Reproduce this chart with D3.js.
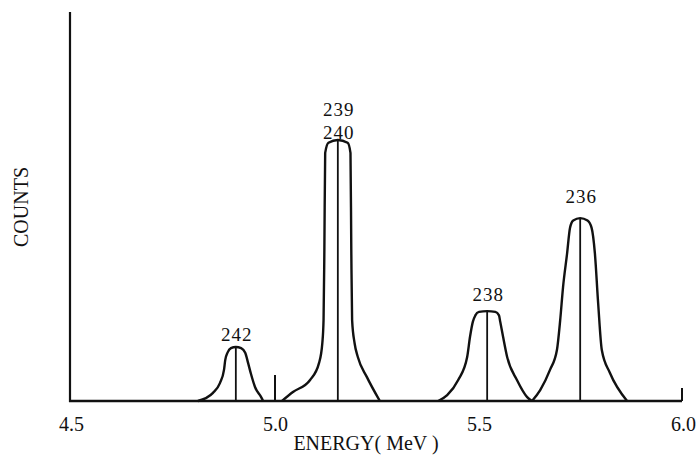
<!DOCTYPE html>
<html lang="en">
<head>
<meta charset="utf-8">
<title>Alpha spectrum</title>
<script src="https://d3js.org/d3.v7.min.js"></script>
<style>
  body { margin: 0; background: #fff; }
  text { font-family: "Liberation Serif", "DejaVu Serif", serif; fill: #111; }
</style>
</head>
<body>
<div id="vis"></div>
<script>
// tick labels on the energy axis (MeV)
const energyTicks = [4.5, 5.0, 5.5, 6.0];

// peak outlines: energy (MeV) and counts (arbitrary units, 0-100)
const peak242E = [4.811, 4.848, 4.865, 4.875, 4.878, 4.884, 4.892, 4.904, 4.917, 4.927, 4.934, 4.941, 4.951, 4.966, 4.971];
const peak242C = [0, 2.1, 4.6, 8.0, 10.5, 12.5, 13.6, 13.9, 13.6, 12.4, 9.8, 7.0, 3.6, 1.0, 0];

const peak239E = [5.017, 5.044, 5.086, 5.108, 5.116, 5.119, 5.121, 5.123, 5.131, 5.154, 5.178, 5.185, 5.187, 5.189, 5.195, 5.203, 5.225, 5.257];
const peak239C = [0, 2.3, 5.4, 9.8, 14.9, 20.8, 38.8, 63.8, 66.4, 67.1, 66.4, 63.8, 38.8, 20.8, 14.9, 11.3, 6.2, 0];

const peak238E = [5.400, 5.422, 5.449, 5.471, 5.478, 5.485, 5.491, 5.500, 5.520, 5.540, 5.549, 5.552, 5.559, 5.569, 5.593, 5.618, 5.630];
const peak238C = [0, 1.5, 5.4, 11.3, 16.5, 20.4, 22.0, 22.9, 23.1, 22.9, 22.0, 20.4, 16.5, 11.3, 5.4, 1.0, 0];

const peak236E = [5.630, 5.650, 5.674, 5.691, 5.699, 5.706, 5.716, 5.723, 5.731, 5.748, 5.766, 5.776, 5.784, 5.792, 5.801, 5.821, 5.863];
const peak236C = [0, 2.8, 8.0, 13.1, 20.8, 29.3, 38.0, 44.5, 46.4, 47.0, 46.4, 44.5, 38.0, 25.2, 13.1, 7.2, 0];

// centre energy and height of each peak, and its isotope label
const peakNames = [["242"], ["239", "240"], ["238"], ["236"]];
const peakCentreE = [4.904, 5.154, 5.520, 5.748];
const peakCentreC = [13.9, 67.1, 23.1, 47.0];

// short marker at 5.0 MeV
const markerE = 5.0;
const markerC = 6.7;

const width = 698;
const height = 465;

const x = d3.scaleLinear().domain([4.5, 6.0]).range([71, 683]);
const y = d3.scaleLinear().domain([0, 100]).range([401, 12]);

const svg = d3.select('#vis')
  .append('svg')
  .attr('width', width)
  .attr('height', height);

// vertical counts axis, no ticks
svg.append('line')
  .attr('x1', x(4.5) - 1).attr('x2', x(4.5) - 1)
  .attr('y1', y(100)).attr('y2', y(0) + 1)
  .attr('stroke', '#111').attr('stroke-width', 2.2);

const xAxis = d3.axisBottom(x)
  .tickValues(energyTicks)
  .tickFormat(d3.format('.1f'))
  .tickSize(0)
  .tickPadding(16);

const gx = svg.append('g')
  .attr('transform', `translate(0,${y(0)})`)
  .attr('font-family', '"Liberation Serif", serif')
  .call(xAxis);
gx.select('.domain').remove();
gx.selectAll('text')
  .style('font-family', '"Liberation Serif", serif')
  .style('font-size', '20px')
  .attr('fill', '#111');

svg.append('line')
  .attr('x1', x(4.5) - 2).attr('x2', x(6.0) - 1)
  .attr('y1', y(0)).attr('y2', y(0))
  .attr('stroke', '#111').attr('stroke-width', 2.4);

svg.append('line')
  .attr('x1', x(6.0) - 1).attr('x2', x(6.0) - 1)
  .attr('y1', y(0)).attr('y2', y(0) - 13)
  .attr('stroke', '#111').attr('stroke-width', 2);

// axis titles
svg.append('text')
  .attr('x', 366)
  .attr('y', 450)
  .attr('text-anchor', 'middle')
  .style('font-size', '20px')
  .text('ENERGY( MeV )');

svg.append('text')
  .attr('transform', 'translate(28,207) rotate(-90)')
  .attr('text-anchor', 'middle')
  .style('font-size', '20px')
  .text('COUNTS');

// peaks
const peaks = [
  d3.zip(peak242E, peak242C),
  d3.zip(peak239E, peak239C),
  d3.zip(peak238E, peak238C),
  d3.zip(peak236E, peak236C)
];

const line = d3.line()
  .x(d => x(d[0]))
  .y(d => y(d[1]))
  .curve(d3.curveMonotoneX);

svg.selectAll('.peak')
  .data(peaks)
  .enter()
  .append('path')
  .attr('class', 'peak')
  .attr('d', line)
  .attr('fill', 'none')
  .attr('stroke', '#111')
  .attr('stroke-width', 2.4)
  .attr('stroke-linejoin', 'round');

// vertical line at each peak centre
svg.selectAll('.centre')
  .data(peakCentreE)
  .enter()
  .append('line')
  .attr('class', 'centre')
  .attr('x1', d => x(d)).attr('x2', d => x(d))
  .attr('y1', (d, i) => y(peakCentreC[i]))
  .attr('y2', y(0))
  .attr('stroke', '#111')
  .attr('stroke-width', 1.8);

svg.append('line')
  .attr('x1', x(markerE)).attr('x2', x(markerE))
  .attr('y1', y(markerC)).attr('y2', y(0))
  .attr('stroke', '#111')
  .attr('stroke-width', 2);

// isotope labels above each peak
const labelGap = [6, 1, 10, 15];
const labels = svg.selectAll('.label')
  .data(peakNames)
  .enter()
  .append('text')
  .attr('class', 'label')
  .attr('text-anchor', 'middle')
  .style('font-size', '19px')
  .style('letter-spacing', '1px')
  .attr('x', (d, i) => x(peakCentreE[i]) + 1)
  .attr('y', (d, i) => y(peakCentreC[i]) - labelGap[i]);

labels.selectAll('tspan')
  .data(d => d)
  .enter()
  .append('tspan')
  .attr('x', function () { return this.parentNode.getAttribute('x'); })
  .attr('dy', (d, j, nodes) => j === 0 ? -(nodes.length - 1) * 23 : 23)
  .text(d => d);
</script>
</body>
</html>
